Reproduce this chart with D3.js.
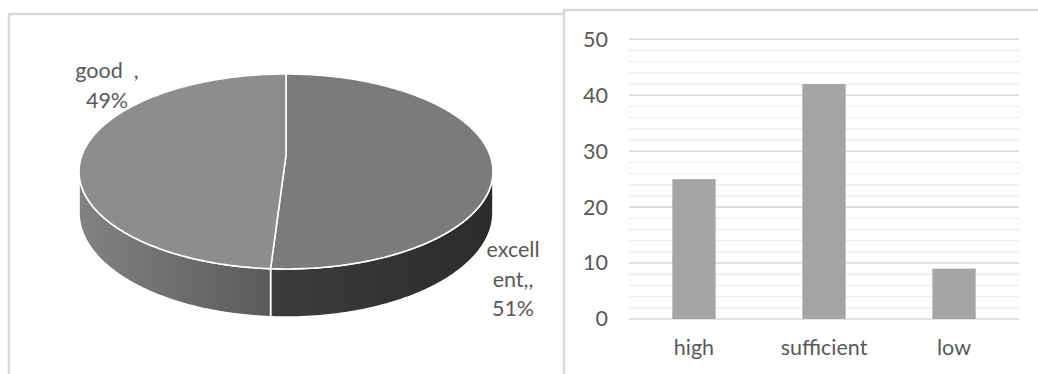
<!DOCTYPE html>
<html>
<head>
<meta charset="utf-8">
<script src="https://cdn.jsdelivr.net/npm/d3@7"></script>
<style>
  body { margin: 0; background: #fff; }
  text { font-family: Lato, "Liberation Sans", sans-serif; fill: #595959; }
</style>
</head>
<body>
<div id="chart"></div>
<script>
// data for the pie
var pieLabels = ["excellent", "good"];
var pieValues = [51, 49];
var pieText = [["excell", "ent,,", "51%"], ["good  ,", "49%"]];

// data for the bar chart
var barCats = ["high", "sufficient", "low"];
var barValues = [25, 42, 9];
var yTicks = [0, 10, 20, 30, 40, 50];

var fontSize = 21.5;

var svg = d3.select("#chart")
  .append("svg")
  .attr("width", 1038)
  .attr("height", 374);

// panel frames
svg.append("path")
  .attr("d", "M9,380 L9,14 L563,14")
  .attr("fill", "none")
  .attr("stroke", "#d9d9d9")
  .attr("stroke-width", 2.5);
svg.append("path")
  .attr("d", "M564,380 L564,10 L1040,10")
  .attr("fill", "none")
  .attr("stroke", "#d9d9d9")
  .attr("stroke-width", 2.5);

// ---------- 3D pie ----------
var cx = 286, cy = 155, A = 204, B = 94.7, k = 0.169, depth = 40;

// perspective projection of a point on the pie rim (angle, 0 = top, clockwise)
function proj(a, down) {
  var u = Math.sin(a), w = -Math.cos(a);
  var s = 1 / (1 - k * w);
  return [cx + A * u * s, cy + B * w * s + down * depth * s];
}

function rim(a0, a1, down) {
  var pts = [];
  var n = Math.max(2, Math.ceil(Math.abs(a1 - a0) / 0.01));
  for (var i = 0; i <= n; i++) pts.push(proj(a0 + (a1 - a0) * i / n, down));
  return pts;
}

var pie = d3.pie().sort(null).value(d => d);
var arcs = pie(pieValues);

// visible side between the two silhouette tangents
var sideA = Math.acos(-k), sideB = 2 * Math.PI - sideA;

var defs = svg.append("defs");
var sideGrad = [["#3c3c3c", "#2b2b2b"], ["#828282", "#5b5b5b"]];
sideGrad.forEach(function(c, i) {
  var g = defs.append("linearGradient")
    .attr("id", "side" + i)
    .attr("gradientUnits", "userSpaceOnUse")
    .attr("x1", i == 0 ? 268 : 80).attr("x2", i == 0 ? 493 : 268)
    .attr("y1", 0).attr("y2", 0);
  g.append("stop").attr("offset", "0%").attr("stop-color", c[0]);
  g.append("stop").attr("offset", "100%").attr("stop-color", c[1]);
});

var line = d3.line();

arcs.forEach(function(d, i) {
  var a0 = Math.max(d.startAngle, sideA), a1 = Math.min(d.endAngle, sideB);
  if (a1 <= a0) return;
  var pts = rim(a0, a1, 0).concat(rim(a1, a0, 1));
  svg.append("path")
    .attr("d", line(pts) + "Z")
    .attr("fill", "url(#side" + i + ")")
    .attr("stroke", "#fff")
    .attr("stroke-width", 1.6)
    .attr("stroke-linejoin", "round");
});

var topColors = ["#7b7b7b", "#8d8d8d"];
arcs.forEach(function(d, i) {
  var pts = [[cx, cy]].concat(rim(d.startAngle, d.endAngle, 0));
  svg.append("path")
    .attr("d", line(pts) + "Z")
    .attr("fill", topColors[i])
    .attr("stroke", "#fff")
    .attr("stroke-width", 1.6)
    .attr("stroke-linejoin", "round");
});

// pie labels
var labelPos = [[513, 257], [107, 78]];
pieText.forEach(function(lines, i) {
  var t = svg.append("text")
    .attr("text-anchor", "middle")
    .attr("font-size", fontSize)
    .style("white-space", "pre");
  lines.forEach(function(s, j) {
    t.append("tspan")
      .attr("x", labelPos[i][0])
      .attr("y", labelPos[i][1] + j * 29.7)
      .text(s);
  });
});

// ---------- bar chart ----------
var x = d3.scaleBand()
  .domain(barCats)
  .range([629, 1019])
  .paddingInner(0.667)
  .paddingOuter(0.333);

var y = d3.scaleLinear()
  .domain([0, 50])
  .range([319, 39.3]);

// minor gridlines
svg.append("g").selectAll("line")
  .data(y.ticks(25).filter(v => v % 10 != 0))
  .enter().append("line")
  .attr("x1", 629).attr("x2", 1019)
  .attr("y1", d => y(d)).attr("y2", d => y(d))
  .attr("stroke", "#ededed")
  .attr("stroke-width", 1.3);

// major gridlines
svg.append("g").selectAll("line")
  .data(yTicks)
  .enter().append("line")
  .attr("x1", 629).attr("x2", 1019)
  .attr("y1", d => y(d)).attr("y2", d => y(d))
  .attr("stroke", "#d9d9d9")
  .attr("stroke-width", 1.6);

svg.append("g").selectAll("rect")
  .data(barValues)
  .enter().append("rect")
  .attr("x", (d, i) => x(barCats[i]))
  .attr("width", x.bandwidth())
  .attr("y", d => y(d))
  .attr("height", d => y(0) - y(d))
  .attr("fill", "#a5a5a5");

var leftAxis = d3.axisLeft(y).tickValues(yTicks).tickSize(0).tickPadding(21);
var gy = svg.append("g")
  .attr("transform", "translate(629,0)")
  .call(leftAxis);
gy.select(".domain").remove();
gy.selectAll("text")
  .attr("font-size", fontSize)
  .attr("fill", "#595959")
  .style("font-family", "Lato, sans-serif");

var bottomAxis = d3.axisBottom(x).tickSize(0).tickPadding(21);
var gx = svg.append("g")
  .attr("transform", "translate(0,319)")
  .call(bottomAxis);
gx.select(".domain").remove();
gx.selectAll("text")
  .attr("font-size", fontSize)
  .attr("fill", "#595959")
  .style("font-family", "Lato, sans-serif");
</script>
</body>
</html>
